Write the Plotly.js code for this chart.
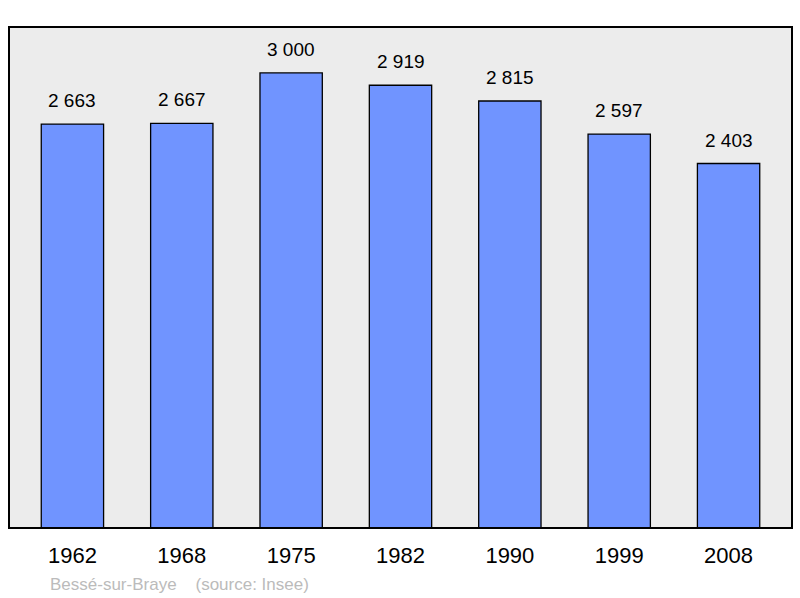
<!DOCTYPE html>
<html><head><meta charset="utf-8">
<script src="https://cdn.plot.ly/plotly-3.0.1.min.js"></script>
<style>html,body{margin:0;padding:0;background:#fff}#c{width:800px;height:598px}</style>
</head><body><div id="c"></div>
<script>
const years = ["1962","1968","1975","1982","1990","1999","2008"];
const population = [2663, 2667, 3000, 2919, 2815, 2597, 2403];
const labels = ["2 663","2 667","3 000","2 919","2 815","2 597","2 403"];
const footnote = "Bessé-sur-Braye&nbsp;&nbsp;&nbsp;&nbsp;(source: Insee)";

const trace = {
  type: "bar",
  x: years,
  y: population,
  width: 0.57,
  marker: {color: "#7094ff", line: {color: "#000", width: 1.3}},
  hoverinfo: "none"
};

const annotations = years.map((y, i) => ({
  x: i, y: population[i], xref: "x", yref: "y",
  text: labels[i], showarrow: false, yanchor: "bottom", yshift: 11,
  font: {family: "Liberation Sans, Arial, sans-serif", size: 19, color: "#000"}
}));
annotations.push({
  xref: "paper", yref: "paper", x: 0.05, y: -0.112, xanchor: "left", yanchor: "middle",
  text: footnote, showarrow: false,
  font: {family: "Liberation Sans, Arial, sans-serif", size: 17, color: "#bbbbbb"}
});

const layout = {
  width: 800, height: 598,
  margin: {l: 9, r: 8, t: 27, b: 70},
  paper_bgcolor: "#fff",
  plot_bgcolor: "#ececec",
  showlegend: false,
  xaxis: {
    type: "category", range: [-0.58, 6.58], showgrid: false, zeroline: false,
    ticks: "", showline: false,
    tickfont: {family: "Liberation Sans, Arial, sans-serif", size: 22, color: "#000"},
    ticklabelstandoff: 12
  },
  yaxis: {range: [0, 3303], showgrid: false, zeroline: false, showticklabels: false, ticks: "", showline: false},
  annotations: annotations,
  shapes: [{type: "rect", xref: "paper", yref: "paper", x0: 0, x1: 1, y0: 0, y1: 1,
    line: {color: "#000", width: 2}, fillcolor: "rgba(0,0,0,0)", layer: "above"}]
};

Plotly.newPlot("c", [trace], layout, {staticPlot: true, displayModeBar: false});
</script></body></html>
